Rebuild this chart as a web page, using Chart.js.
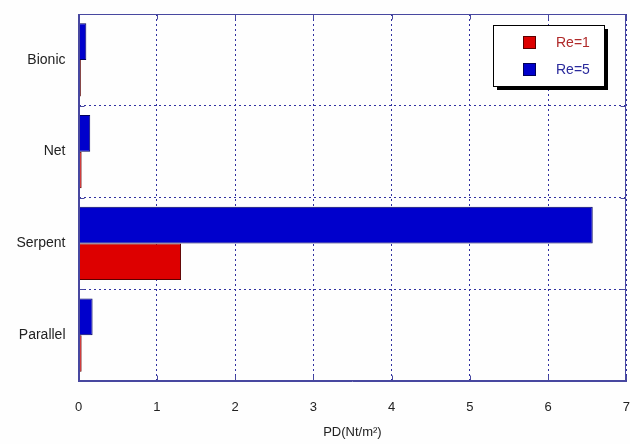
<!DOCTYPE html>
<html lang="en">
<head>
    <meta charset="UTF-8">
    <title>PD bar chart</title>
    <script src="https://cdn.jsdelivr.net/npm/chart.js"></script>
    <style>
        html, body { margin: 0; padding: 0; background: #fefefe; overflow: hidden; }
        #wrap { width: 630px; height: 444px; }
        canvas { display: block; }
    </style>
</head>
<body>
    <div id="wrap"><canvas id="pdChart"></canvas></div>

    <script>
        // --- data ---
        const categories = ['Bionic', 'Net', 'Serpent', 'Parallel'];
        const re1Values = [0.03, 0.04, 1.31, 0.04];
        const re5Values = [0.10, 0.15, 6.57, 0.18];
        const seriesLabels = ['Re=1', 'Re=5'];
        const xTicks = [0, 1, 2, 3, 4, 5, 6, 7];

        const axisColor = '#4848a0';
        const gridColor = '#3030a0';
        const fontFamily = '"Liberation Sans", Arial, sans-serif';

        // solid frame plus inside tick marks on all four sides, matlab style
        const frameTicks = {
            id: 'frameTicks',
            afterDatasetsDraw(chart) {
                const { ctx, chartArea: a, scales } = chart;
                ctx.save();
                ctx.strokeStyle = axisColor;
                ctx.lineWidth = 1;
                ctx.setLineDash([]);
                const l = Math.round(a.left) + 0.5, r = Math.round(a.right) - 0.5;
                const t = Math.round(a.top) + 0.5, b = Math.round(a.bottom) - 0.5;
                ctx.strokeRect(l, t, r - l, b - t);
                ctx.beginPath();
                xTicks.forEach(v => {
                    const x = Math.round(scales.x.getPixelForValue(v)) + 0.5;
                    ctx.moveTo(x, b); ctx.lineTo(x, b - 5);
                    ctx.moveTo(x, t); ctx.lineTo(x, t + 5);
                });
                for (let i = 1; i < categories.length; i++) {
                    const y = Math.round((scales.y.getPixelForValue(i - 1) + scales.y.getPixelForValue(i)) / 2) + 0.5;
                    ctx.moveTo(l, y); ctx.lineTo(l + 5, y);
                    ctx.moveTo(r, y); ctx.lineTo(r - 5, y);
                }
                ctx.stroke();
                ctx.restore();
            }
        };

        // boxed legend with drop shadow, Re=1 listed first
        const boxLegend = {
            id: 'boxLegend',
            afterDraw(chart) {
                const ctx = chart.ctx;
                const bx = 493, by = 25, bw = 111, bh = 61;
                ctx.save();
                ctx.fillStyle = '#000';
                ctx.fillRect(bx + 4, by + 4, bw, bh);
                ctx.fillStyle = '#fff';
                ctx.fillRect(bx, by, bw, bh);
                ctx.strokeStyle = '#000';
                ctx.lineWidth = 1;
                ctx.strokeRect(bx + 0.5, by + 0.5, bw, bh);
                const textColors = { 'Re=1': '#b02a2a', 'Re=5': '#2a2a9c' };
                ctx.font = '14px ' + fontFamily;
                ctx.textBaseline = 'middle';
                const order = chart.data.datasets.slice().reverse();
                order.forEach((ds, i) => {
                    const sy = by + 11 + i * 27;
                    ctx.fillStyle = ds.backgroundColor;
                    ctx.fillRect(523, sy, 13, 13);
                    ctx.strokeStyle = ds.borderColor;
                    ctx.strokeRect(523.5, sy + 0.5, 12, 12);
                    ctx.fillStyle = textColors[ds.label];
                    ctx.fillText(ds.label, 556, sy + 7);
                });
                ctx.restore();
            }
        };

        const ctx = document.getElementById('pdChart').getContext('2d');
        new Chart(ctx, {
            type: 'bar',
            data: {
                labels: categories,
                datasets: [
                    {
                        label: seriesLabels[1],
                        data: re5Values,
                        backgroundColor: '#0000cc',
                        borderColor: '#00005a',
                        borderWidth: 1,
                        borderSkipped: false
                    },
                    {
                        label: seriesLabels[0],
                        data: re1Values,
                        backgroundColor: '#dd0000',
                        borderColor: '#5a0000',
                        borderWidth: 1,
                        borderSkipped: false
                    }
                ]
            },
            options: {
                indexAxis: 'y',
                responsive: true,
                maintainAspectRatio: false,
                animation: false,
                layout: { padding: { top: 14, right: 0, bottom: 0, left: 0 } },
                datasets: { bar: { categoryPercentage: 0.8, barPercentage: 1.0 } },
                plugins: {
                    legend: { display: false },
                    tooltip: { enabled: false }
                },
                scales: {
                    x: {
                        min: 0,
                        max: 7,
                        afterBuildTicks(scale) { scale.ticks = xTicks.map(v => ({ value: v })); },
                        afterFit(scale) { scale.height = 63; },
                        border: { color: axisColor, width: 1, dash: [2, 3] },
                        grid: { color: gridColor, lineWidth: 1, drawTicks: true, tickLength: 19, tickColor: 'rgba(0,0,0,0)' },
                        ticks: {
                            padding: 0,
                            color: '#222',
                            font: { family: fontFamily, size: 13 }
                        },
                        title: {
                            display: true,
                            text: 'PD(Nt/m²)',
                            color: '#222',
                            padding: { top: 0, bottom: 4 },
                            font: { family: fontFamily, size: 13 }
                        }
                    },
                    y: {
                        afterFit(scale) { scale.width = 78.5; },
                        border: { color: axisColor, width: 1, dash: [2, 3] },
                        grid: { color: gridColor, offset: true, drawTicks: true, tickLength: 13, tickColor: 'rgba(0,0,0,0)' },
                        ticks: {
                            padding: 0,
                            color: '#222',
                            font: { family: fontFamily, size: 14 }
                        }
                    }
                }
            },
            plugins: [frameTicks, boxLegend]
        });
    </script>
</body>
</html>
